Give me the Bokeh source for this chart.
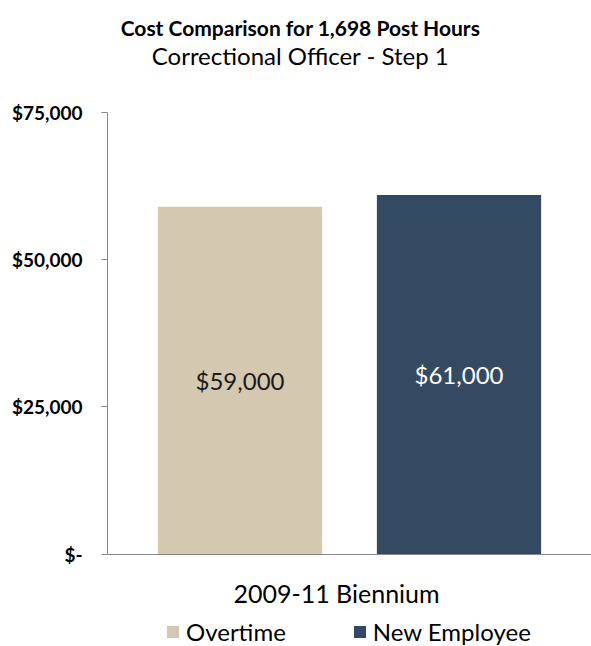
from bokeh.plotting import figure
from bokeh.models import (ColumnDataSource, FactorRange, Range1d, FixedTicker, Label,
                          Legend, LegendItem)
from bokeh.core.properties import value
from bokeh.embed import file_html
from bokeh.resources import INLINE

# ---- data ----
title_text = "Cost Comparison for 1,698 Post Hours"
subtitle_text = "Correctional Officer - Step 1"
group_label = "2009-11 Biennium"
categories = ["Overtime", "New Employee"]
costs = [59000, 61000]
bar_colors = ["#D5C8B1", "#344A62"]
label_colors = ["#1a1a1a", "#ffffff"]
y_ticks = [0, 25000, 50000, 75000]
y_tick_labels = ["$-", "$25,000", "$50,000", "$75,000"]
y_max = 75000

FONT = "Lato"

# ---- layout (pixels) ----
W, H = 591, 646
LEFT = 107          # y-axis position
AXIS_TOP = 112      # pixel row of the top tick
AXIS_BOTTOM = 553.5 # pixel row of the baseline
ppu = (AXIS_BOTTOM - AXIS_TOP) / y_max
y_start = -(H - AXIS_BOTTOM) / ppu
y_end = y_max + AXIS_TOP / ppu

src = ColumnDataSource(dict(
    cat=categories,
    half=[c / 2 for c in costs],
    lcolor=label_colors,
    txt=["${:,.0f}".format(c) for c in costs],
))

p = figure(width=W, height=H, output_backend="svg", toolbar_location=None,
           x_range=FactorRange(factors=categories, range_padding=0.105),
           y_range=Range1d(y_start, y_end),
           min_border_left=LEFT, min_border_right=0, min_border_top=0,
           min_border_bottom=0)
p.outline_line_color = None
p.xgrid.grid_line_color = None
p.ygrid.grid_line_color = None

r1 = p.vbar(x=[categories[0]], top=[costs[0]], width=0.75, fill_color=bar_colors[0],
            line_color=None)
r2 = p.vbar(x=[categories[1]], top=[costs[1]], width=0.75, fill_color=bar_colors[1],
            line_color=None)

p.text(x="cat", y="half", text="txt", source=src, text_color="lcolor",
       text_font=value(FONT), text_font_size="24px", text_align="center",
       text_baseline="middle")

# y axis
ax = p.yaxis[0]
ax.ticker = FixedTicker(ticks=y_ticks)
ax.bounds = (0, y_max)
ax.major_label_overrides = {t: l for t, l in zip(y_ticks, y_tick_labels)}
ax.major_label_text_font = FONT
ax.major_label_text_font_style = "bold"
ax.major_label_text_font_size = "19px"
ax.major_label_text_color = "#000000"
ax.major_label_standoff = 19
ax.major_tick_out = 6
ax.major_tick_in = 0
ax.minor_tick_line_color = None
ax.axis_line_color = "#888888"
ax.major_tick_line_color = "#888888"

# x axis (baseline at y = 0), category names shown in the legend instead
xa = p.xaxis[0]
xa.fixed_location = 0
xa.major_label_text_color = None
xa.major_label_standoff = 0
xa.major_tick_line_color = None
xa.axis_line_color = "#888888"

# titles and category label (frame-relative screen positions)
p.add_layout(Label(x=300 - LEFT, y=H - 27, x_units="screen", y_units="screen",
                   text=title_text, text_font=FONT, text_font_style="bold",
                   text_font_size="21px", text_align="center", text_baseline="middle",
                   text_color="#000000"))
p.add_layout(Label(x=300 - LEFT, y=H - 55, x_units="screen", y_units="screen",
                   text=subtitle_text, text_font=FONT, text_font_size="24px",
                   text_align="center", text_baseline="middle", text_color="#000000"))
p.add_layout(Label(x=336 - LEFT, y=H - 592, x_units="screen", y_units="screen",
                   text=group_label, text_font=FONT, text_font_size="25px",
                   text_align="center", text_baseline="middle", text_color="#000000"))

legend = Legend(items=[LegendItem(label=categories[0], renderers=[r1]),
                       LegendItem(label=categories[1], renderers=[r2])],
                orientation="horizontal", location=(165 - LEFT, 0),
                glyph_width=15, glyph_height=15, label_standoff=6, spacing=66,
                padding=0, margin=0, border_line_color=None, background_fill_alpha=0,
                label_text_font=FONT, label_text_font_size="24px", label_height=15,
                label_text_color="#000000")
p.add_layout(legend, "center")

open("out.html", "w").write(file_html(p, INLINE))
